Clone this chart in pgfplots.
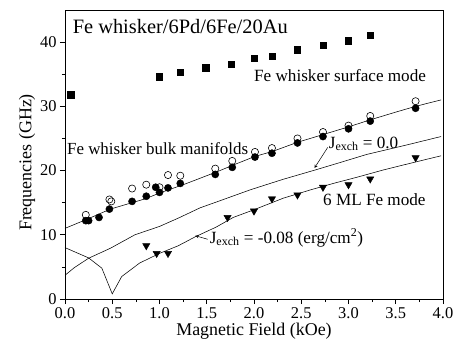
\documentclass[border=0pt]{standalone}
\usepackage{fontspec}
\setmainfont{Liberation Serif}
\usepackage{pgfplots}
\pgfplotsset{compat=1.18}
\begin{document}
\begin{tikzpicture}
\begin{axis}[
 scale only axis, width=378bp, height=289bp,
 xmin=0, xmax=4, ymin=0, ymax=45,
 xtick={0,0.5,1,1.5,2,2.5,3,3.5,4}, ytick={0,10,20,30,40},
 minor x tick num=1, minor y tick num=1,
 xticklabel style={/pgf/number format/.cd, fixed, fixed zerofill, precision=1},
 tick align=outside, xtick pos=left, ytick pos=left,
 major tick length=5bp, minor tick length=3bp,
 tick style={black, line width=0.6pt},
 axis line style={line width=0.7pt},
 ticklabel style={font=\fontsize{16.5}{18}\selectfont},
 label style={font=\fontsize{18}{20}\selectfont},
 /pgf/number format/assume math mode=true,
 xlabel={Magnetic Field (kOe)}, ylabel={Frequencies (GHz)},
 ylabel style={yshift=-2bp, xshift=-8bp},
 xlabel style={yshift=2bp},
]
% fit lines
\addplot[black, line width=0.55pt] coordinates {
(0,11.0)(0.23,12.4)(0.48,14.0)(0.71,15.0)(0.85,15.6)(1.0,16.5)(1.27,17.9)(1.5,19.2)(1.64,20.0)(1.77,20.8)(2.01,22.2)(2.2,23.0)(2.46,24.4)(2.73,25.6)(3.0,26.8)(3.23,27.9)(3.5,29.1)(3.71,30.0)(3.98,31.0)};
\addplot[black, line width=0.55pt] coordinates {
(0,3.7)(0.1,4.9)(0.25,6.35)(0.48,7.9)(0.74,10.0)(1.0,11.3)(1.2,12.6)(1.43,14.2)(1.64,15.3)(1.96,17.0)(2.3,18.6)(2.65,20.1)(2.9,21.2)(3.19,22.5)(3.62,24.0)(3.98,25.3)};
\addplot[black, line width=0.55pt] coordinates {
(0,8.0)(0.25,6.4)(0.39,4.8)(0.5,0.8)(0.6,3.5)(0.79,5.6)(1.0,7.1)(1.2,8.3)(1.38,9.7)(1.6,11.2)(1.78,12.7)(2.0,13.9)(2.31,15.7)(2.6,17.0)(2.84,18.0)(3.1,19.0)(3.37,20.1)(3.7,21.3)(3.98,22.3)};
% surface mode
\addplot[only marks, mark=square*, mark size=3.2bp, black] coordinates {
(0.06,31.8)(1.0,34.6)(1.22,35.3)(1.49,36.0)(1.76,36.6)(2.0,37.5)(2.19,37.8)(2.46,38.8)(2.73,39.5)(3.0,40.2)(3.23,41.1)};
% bulk open
\addplot[only marks, mark=o, mark size=3.6bp, black, mark options={line width=0.6pt}] coordinates {
(0.22,13.1)(0.47,15.5)(0.49,15.2)(0.71,17.2)(0.86,17.8)(1.0,17.4)(1.09,19.3)(1.22,19.2)(1.59,20.3)(1.77,21.5)(2.01,22.9)(2.19,23.5)(2.46,25.0)(2.73,26.0)(3.0,27.0)(3.23,28.5)(3.71,30.8)};
% bulk filled
\addplot[only marks, mark=*, mark size=3.6bp, black] coordinates {
(0.22,12.2)(0.25,12.2)(0.36,12.7)(0.47,14.0)(0.71,15.2)(0.86,16.0)(0.96,17.4)(1.0,16.6)(1.09,17.3)(1.22,18.0)(1.59,19.4)(1.77,20.5)(2.01,22.1)(2.19,22.7)(2.46,24.3)(2.73,25.3)(3.0,26.5)(3.23,27.7)(3.71,29.7)};
% 6 ML Fe mode
\addplot[only marks, mark=triangle*, mark size=4.2bp, black, mark options={rotate=180}] coordinates {
(0.86,8.3)(0.97,7.1)(1.09,7.1)(1.72,12.7)(2.0,13.7)(2.19,15.6)(2.46,16.2)(2.73,17.4)(3.0,17.8)(3.23,18.7)(3.71,22.0)};
% annotations
\node[anchor=base west, font=\fontsize{20.5}{22}\selectfont, inner sep=0pt] at (axis cs:0.08,41.3) {Fe whisker/6Pd/6Fe/20Au};
\node[anchor=base west, font=\fontsize{17.2}{20}\selectfont, inner sep=0pt] at (axis cs:2.0,33.9) {Fe whisker surface mode};
\node[anchor=base west, font=\fontsize{17}{20}\selectfont, inner sep=0pt] at (axis cs:0.02,22.5) {Fe whisker bulk manifolds};
\node[anchor=base west, font=\fontsize{17.2}{20}\selectfont, inner sep=0pt] at (axis cs:2.73,14.5) {6 ML Fe mode};
\node[anchor=base west, font=\fontsize{17.2}{20}\selectfont, inner sep=0pt] at (axis cs:2.79,23.5) {J\textsubscript{exch} = 0.0};
\node[anchor=base west, font=\fontsize{17.2}{20}\selectfont, inner sep=0pt] at (axis cs:1.53,8.7) {J\textsubscript{exch} = -0.08 (erg/cm\textsuperscript{2})};
\draw[-stealth, line width=0.5pt] (axis cs:2.78,23.6) -- (axis cs:2.64,20.4);
\draw[-stealth, line width=0.5pt] (axis cs:1.51,9.3) -- (axis cs:1.38,9.85);
\end{axis}
\pgfresetboundingbox
\path[use as bounding box] (-65bp,-45bp) rectangle (398bp,299bp);
\end{tikzpicture}
\end{document}
